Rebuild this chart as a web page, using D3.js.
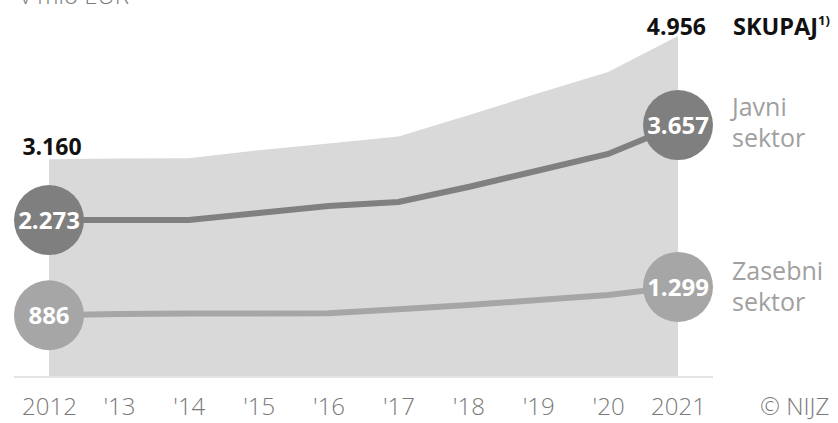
<!DOCTYPE html>
<html><head><meta charset="utf-8">
<script src="https://cdn.jsdelivr.net/npm/d3@7"></script>
<style>
html,body{margin:0;padding:0;background:#fff;}
svg{display:block;font-family:"Open Sans",sans-serif;}
</style></head>
<body>
<svg id="c" width="838" height="423"></svg>
<script>
const years = [2012,2013,2014,2015,2016,2017,2018,2019,2020,2021];
const tickLabels = ["2012","'13","'14","'15","'16","'17","'18","'19","'20","2021"];
const total   = [3160,3170,3175,3290,3390,3490,3800,4120,4430,4956];
const javni   = [2273,2274,2274,2376,2478,2536,2755,2996,3236,3657];
const zasebni = [886,905,910,910,915,972,1035,1108,1181,1299];
const unitLabel = "v mio EUR";

const svg = d3.select("#c");
const x = d3.scaleLinear().domain([2012,2021]).range([49,678]);
const y = d3.scaleLinear().domain([0,4956]).range([376,36]);
const fmt = v => d3.format(",")(v).replace(/,/g,".");

// area (total)
const area = d3.area().x((d,i)=>x(years[i])).y0(y(0)).y1(d=>y(d));
svg.append("path").datum(total).attr("d",area).attr("fill","#d9d9d9");

// baseline
svg.append("line").attr("x1",x(2012)-35).attr("x2",x(2021)+35)
  .attr("y1",y(0)+1).attr("y2",y(0)+1).attr("stroke","#e3e3e3").attr("stroke-width",2);

// lines
const line = d3.line().x((d,i)=>x(years[i])).y(d=>y(d));
svg.append("path").datum(javni).attr("d",line).attr("fill","none").attr("stroke","#808080").attr("stroke-width",6);
svg.append("path").datum(zasebni).attr("d",line).attr("fill","none").attr("stroke","#a6a6a6").attr("stroke-width",6);

// end circles
function bubble(val, year, col){
  svg.append("circle").attr("cx",x(year)).attr("cy",y(val)).attr("r",35).attr("fill",col);
  svg.append("text").attr("x",x(year)).attr("y",y(val)).attr("dy","0.36em")
    .attr("text-anchor","middle").attr("fill","#fff").attr("font-weight",700)
    .attr("font-size",24).text(fmt(val));
}
bubble(javni[0], years[0], "#7f7f7f");
bubble(javni[9], years[9], "#7f7f7f");
bubble(zasebni[0], years[0], "#a6a6a6");
bubble(zasebni[9], years[9], "#a6a6a6");

// total labels
svg.append("text").attr("x",x(2012)+3).attr("y",y(total[0])-4).attr("text-anchor","middle")
  .attr("font-weight",700).attr("font-size",23).attr("fill","#111").text(fmt(total[0]));
svg.append("text").attr("x",x(2021)+28).attr("y",35).attr("text-anchor","end")
  .attr("font-weight",700).attr("font-size",23).attr("fill","#111").text(fmt(total[9]));

// right legend labels
const skup = svg.append("text").attr("x",733).attr("y",35).attr("font-weight",700).attr("font-size",23.5).attr("fill","#111");
skup.append("tspan").text("SKUPAJ");
skup.append("tspan").attr("font-size",13).attr("dy",-10).text("1)");

function twoLine(txt1, txt2, yb, col){
  const t = svg.append("text").attr("x",732).attr("y",yb).attr("font-size",25).attr("fill",col);
  t.append("tspan").attr("x",732).text(txt1);
  t.append("tspan").attr("x",732).attr("dy",31).text(txt2);
}
twoLine("Javni","sektor",116,"#a0a0a0");
twoLine("Zasebni","sektor",280,"#a0a0a0");

// x axis labels
const ax = d3.axisBottom(x).tickValues(years).tickFormat((d,i)=>tickLabels[i]).tickSize(0).tickPadding(0);
const g = svg.append("g").attr("transform","translate(0,415)").call(ax);
g.select(".domain").remove();
g.selectAll("text").attr("font-family","'Open Sans',sans-serif").attr("font-size",24)
  .attr("font-weight",300).attr("fill","#7a7a7a").attr("dy",0).attr("y",0);

svg.append("text").attr("x",760).attr("y",415).attr("font-size",24).attr("font-weight",300)
  .attr("fill","#7a7a7a").text("© NIJZ");

// unit label (cut off at top)
svg.append("text").attr("x",20).attr("y",4).attr("font-size",24).attr("font-weight",300)
  .attr("fill","#7a7a7a").text(unitLabel);
</script>
</body></html>
